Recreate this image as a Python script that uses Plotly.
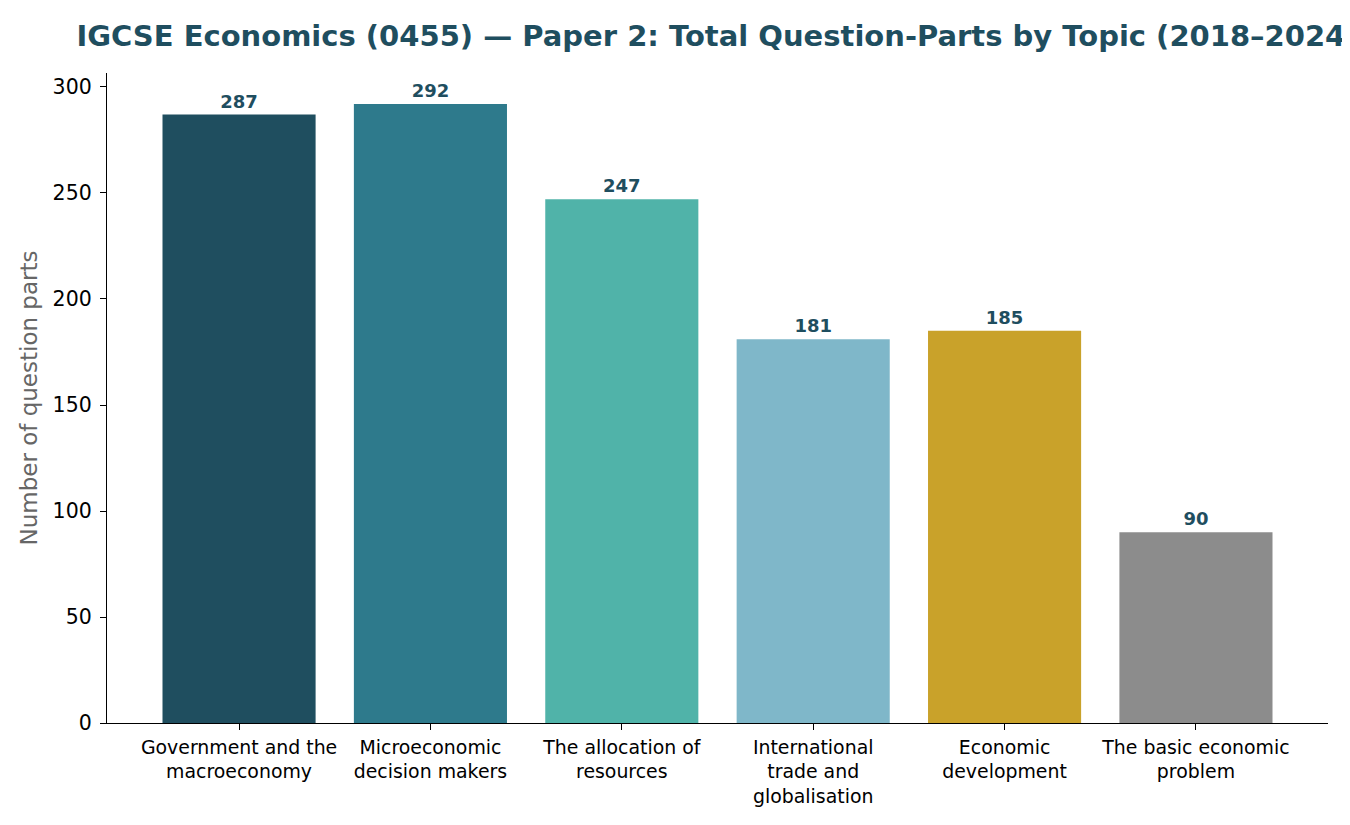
import plotly.graph_objects as go

topics = [
    "Government and the<br>macroeconomy",
    "Microeconomic<br>decision makers",
    "The allocation of<br>resources",
    "International<br>trade and<br>globalisation",
    "Economic<br>development",
    "The basic economic<br>problem",
]
counts = [287, 292, 247, 181, 185, 90]
bar_colors = ["#1f4e5f", "#2e7a8c", "#50b3a9", "#7fb7c9", "#c9a22a", "#8c8c8c"]
y_ticks = [0, 50, 100, 150, 200, 250, 300]

FONT = "DejaVu Sans"
DARK = "#1f4e5f"

fig = go.Figure(go.Bar(
    x=list(range(len(topics))),
    y=counts,
    width=0.8,
    marker=dict(color=bar_colors, line=dict(width=0)),
    text=[str(c) for c in counts],
    textposition="outside",
    textfont=dict(family=FONT, size=18, color=DARK, weight="bold"),
    cliponaxis=False,
))

# page has an 8px body margin, so offsets are shifted back by 8
fig.update_layout(
    width=1350,
    height=825,
    margin=dict(l=99, r=30, t=65, b=110),
    paper_bgcolor="white",
    plot_bgcolor="white",
    showlegend=False,
    font=dict(family=FONT, color="black"),
    title=dict(
        text="<b>IGCSE Economics (0455) — Paper 2: Total Question-Parts by Topic (2018–2024)</b>",
        x=0.5, xref="paper", xanchor="center",
        y=1 - 28 / 825, yref="container", yanchor="middle",
        font=dict(family=FONT, size=29, color=DARK),
    ),
    xaxis=dict(
        range=[-0.69, 5.69],
        tickmode="array",
        tickvals=list(range(len(topics))),
        ticktext=topics,
        tickfont=dict(family=FONT, size=18.9, color="black"),
        ticks="outside", ticklen=6, tickwidth=1.2, tickcolor="black",
        showline=True, linecolor="black", linewidth=1.3,
        showgrid=False, zeroline=False,
        ticklabelstandoff=1,
    ),
    yaxis=dict(
        range=[0, 306.6],
        tickvals=y_ticks,
        tickfont=dict(family=FONT, size=20.5, color="black"),
        ticks="outside", ticklen=6, tickwidth=1.2, tickcolor="black",
        showline=True, linecolor="black", linewidth=1.3,
        showgrid=False, zeroline=False,
        ticklabelstandoff=4,
        title=dict(text="Number of question parts", standoff=8,
                   font=dict(family=FONT, size=23, color="#666666")),
    ),
)

fig.write_html("out.html")
